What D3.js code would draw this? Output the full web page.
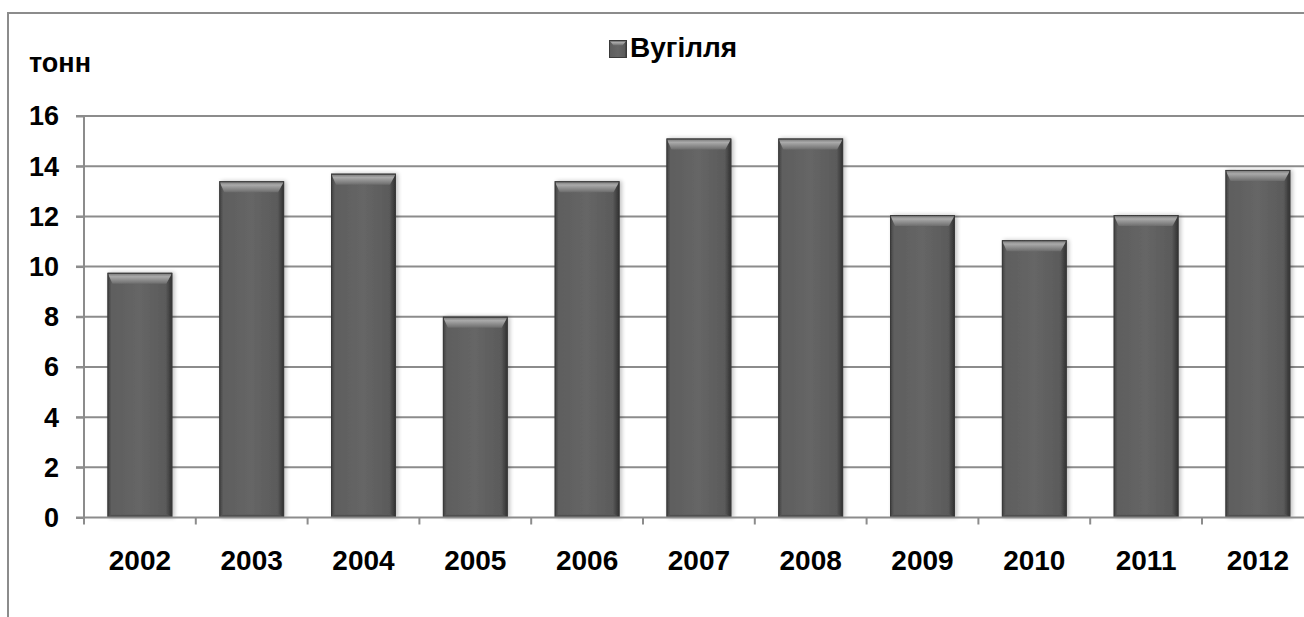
<!DOCTYPE html>
<html><head><meta charset="utf-8">
<script src="https://cdn.jsdelivr.net/npm/d3@7"></script>
<style>
html,body{margin:0;padding:0;background:#fff;overflow:hidden}
text{font-family:"Liberation Sans",Arial,sans-serif;font-weight:bold;fill:#000}
</style></head><body>
<svg id="c" width="1304" height="617"></svg>
<script>
const years = ["2002","2003","2004","2005","2006","2007","2008","2009","2010","2011","2012"];
const coal = [9.75, 13.4, 13.7, 8.0, 13.4, 15.1, 15.1, 12.05, 11.05, 12.05, 13.85];
const yTicks = [0,2,4,6,8,10,12,14,16];
const seriesName = "Вугілля";
const unitLabel = "тонн";

const svg = d3.select("#c");
const defs = svg.append("defs");
const gTop = defs.append("linearGradient").attr("id","gTop").attr("x1",0).attr("y1",0).attr("x2",0).attr("y2",1);
gTop.append("stop").attr("offset","0").attr("stop-color","#5c5c5c");
gTop.append("stop").attr("offset","0.15").attr("stop-color","#8a8a8a");
gTop.append("stop").attr("offset","0.35").attr("stop-color","#aaaaaa");
gTop.append("stop").attr("offset","1").attr("stop-color","#6c6c6c");
const gBody = defs.append("linearGradient").attr("id","gBody").attr("x1",0).attr("y1",0).attr("x2",1).attr("y2",0);
gBody.append("stop").attr("offset","0").attr("stop-color","#3e3e3e");
gBody.append("stop").attr("offset","0.06").attr("stop-color","#5e5e5e");
gBody.append("stop").attr("offset","0.5").attr("stop-color","#666666");
gBody.append("stop").attr("offset","0.9").attr("stop-color","#5a5a5a");
gBody.append("stop").attr("offset","1").attr("stop-color","#2e2e2e");
const gBot = defs.append("linearGradient").attr("id","gBot").attr("x1",0).attr("y1",0).attr("x2",0).attr("y2",1);
gBot.append("stop").attr("offset","0").attr("stop-color","#5a5a5a");
gBot.append("stop").attr("offset","1").attr("stop-color","#3a3a3a");
const sh = defs.append("filter").attr("id","shadow").attr("x","-20%").attr("y","-5%").attr("width","140%").attr("height","110%");
sh.append("feGaussianBlur").attr("in","SourceAlpha").attr("stdDeviation",2);
sh.append("feOffset").attr("dx",2).attr("dy",0).attr("result","b");
sh.append("feComponentTransfer").append("feFuncA").attr("type","linear").attr("slope",0.25);
const mg = sh.append("feMerge"); mg.append("feMergeNode"); mg.append("feMergeNode").attr("in","SourceGraphic");

// outer chart border
svg.append("path").attr("d","M8,625 V13 H1310").attr("fill","none").attr("stroke","#8c8c8c").attr("stroke-width",2);

const pLeft = 84, pTop = 116, pBottom = 517.5;
const x = d3.scaleBand().domain(years).range([pLeft, pLeft + 11*111.8]).paddingInner(0.42).paddingOuter(0.21);
const y = d3.scaleLinear().domain([0,16]).range([pBottom, pTop]);

// gridlines
svg.append("g").selectAll("line").data(yTicks.slice(1)).join("line")
  .attr("x1",76).attr("x2",1310).attr("y1",d=>y(d)).attr("y2",d=>y(d))
  .attr("stroke","#8c8c8c").attr("stroke-width",2);

// y axis
const ya = svg.append("g").attr("transform",`translate(${pLeft},0)`)
  .call(d3.axisLeft(y).tickValues(yTicks).tickSize(8).tickPadding(17).tickFormat(d3.format("d")));
ya.select(".domain").attr("stroke","#8c8c8c").attr("stroke-width",2).attr("d",`M0,${pTop}V${pBottom}`);
ya.selectAll(".tick line").attr("stroke","#8c8c8c").attr("stroke-width",2);
ya.selectAll(".tick text").attr("font-size","27px").attr("dy","0.33em").style("font-family","'Liberation Sans',Arial,sans-serif").style("font-weight","bold").attr("fill","#000");

// bars
const bw = x.bandwidth();
const bars = svg.append("g").selectAll("g").data(years.map((yr,i)=>({yr, v:coal[i]}))).join("g")
  .attr("filter","url(#shadow)");
bars.append("rect").attr("x",d=>x(d.yr)).attr("y",d=>y(d.v)).attr("width",bw).attr("height",d=>pBottom-y(d.v))
  .attr("fill","url(#gBody)");
const bev = 11;
bars.append("path").attr("d",d=>{const x0=x(d.yr),x1=x0+bw,t=y(d.v);return `M${x0},${t}H${x1}L${x1-6},${t+bev}H${x0+5}Z`;})
  .attr("fill","url(#gTop)");
bars.append("path").attr("d",d=>{const x0=x(d.yr),x1=x0+bw;return `M${x0},${pBottom}H${x1}L${x1-5},${pBottom-3}H${x0+4}Z`;})
  .attr("fill","url(#gBot)");
bars.append("rect").attr("x",d=>x(d.yr)+0.5).attr("y",d=>y(d.v)+0.5).attr("width",bw-1).attr("height",d=>pBottom-y(d.v)-1)
  .attr("fill","none").attr("stroke","#3a3a3a").attr("stroke-width",1);

// x axis
const xa = svg.append("g").attr("transform",`translate(0,${pBottom})`);
xa.append("line").attr("x1",76).attr("x2",1310).attr("stroke","#8c8c8c").attr("stroke-width",2);
const bounds = d3.range(0,12).map(i=> pLeft + i*x.step());
xa.selectAll("line.t").data(bounds).join("line").attr("class","t")
  .attr("x1",d=>d).attr("x2",d=>d).attr("y1",0).attr("y2",7).attr("stroke","#8c8c8c").attr("stroke-width",2);
xa.selectAll("text").data(years).join("text")
  .attr("x",d=>x(d)+bw/2).attr("y",52).attr("text-anchor","middle").attr("font-size","28px").text(d=>d);

// unit label
svg.append("text").attr("x",29).attr("y",72).attr("font-size","27px").text(unitLabel);

// legend
const lg = svg.append("g");
lg.append("rect").attr("x",609.5).attr("y",40.5).attr("width",17).attr("height",17).attr("fill","url(#gBody)").attr("stroke","#3a3a3a");
lg.append("path").attr("d","M610,41H626L622.5,45.5H613.5Z").attr("fill","url(#gTop)");
lg.append("text").attr("x",630).attr("y",57).attr("font-size","28px").text(seriesName);
</script>
</body></html>
